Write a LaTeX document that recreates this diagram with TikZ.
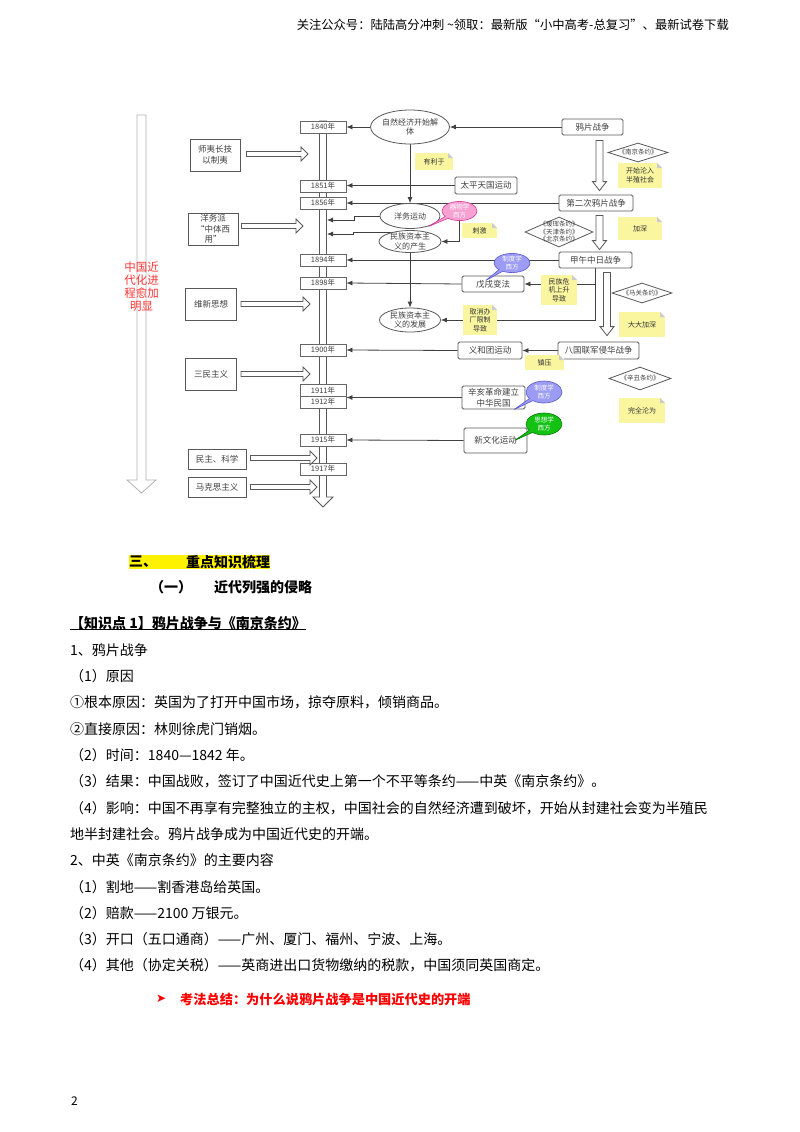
\documentclass[tikz,border=0pt]{standalone}
\usepackage{fontspec}
\setmainfont{Noto Sans CJK SC}
\newfontfamily\symfont{DejaVu Sans}
\usetikzlibrary{arrows.meta,shapes.geometric,shapes.callouts,calc,backgrounds}

\definecolor{notey}{HTML}{FAF6A0}
\definecolor{pinkf}{HTML}{F7A1D2}
\definecolor{pinkd}{HTML}{D63C9A}
\definecolor{purpf}{HTML}{9C9CF5}
\definecolor{purpd}{HTML}{5A5AD0}
\definecolor{grnf}{HTML}{14C214}
\definecolor{grnd}{HTML}{0A7A0A}

% hollow block arrows: start point, tip point
\newcommand{\blockright}[2]{%
  \draw[hollow] let \p1=#1, \p2=#2 in
    (\x1,\y2-2.5pt) -- (\x2-7pt,\y2-2.5pt) -- (\x2-7pt,\y2-7pt) -- (\x2,\y2)
    -- (\x2-7pt,\y2+7pt) -- (\x2-7pt,\y2+2.5pt) -- (\x1,\y2+2.5pt) -- cycle;}
\newcommand{\blockdown}[2]{%
  \draw[hollow] let \p1=#1, \p2=#2 in
    (\x1-3.5pt,\y1) -- (\x1-3.5pt,\y2+9pt) -- (\x1-7pt,\y2+9pt) -- (\x1,\y2)
    -- (\x1+7pt,\y2+9pt) -- (\x1+3.5pt,\y2+9pt) -- (\x1+3.5pt,\y1) -- cycle;}

\tikzset{
  hollow/.style={draw=black!65,fill=white,line width=0.8pt},
  link/.style={draw=black!75,line width=0.8pt,-{Latex[length=6pt,width=5pt]}},
  yearbox/.style={draw=black!60,line width=0.9pt,fill=white,minimum width=46pt,minimum height=12pt,
    inner sep=0pt,font=\fontsize{7.5}{8}\selectfont,text=black!75},
  idea/.style={draw=black!65,line width=0.8pt,fill=white,inner sep=1pt,align=center,
    font=\fontsize{8.5}{10.5}\selectfont,text=black!75},
  event/.style={draw=black!65,line width=0.8pt,fill=white,rounded corners=1.5pt,inner sep=1pt,
    align=center,font=\fontsize{8.5}{10.5}\selectfont,text=black!75},
  stage/.style={ellipse,draw=black!65,line width=0.8pt,fill=white,inner sep=0pt},
  stagetxt/.style={align=center,inner sep=0pt,font=\fontsize{8}{9.5}\selectfont,text=black!75},
  pact/.style={diamond,draw=black!65,line width=0.8pt,fill=white,inner sep=0pt},
  pacttxt/.style={align=center,inner sep=0pt,font=\fontsize{6.5}{7.5}\selectfont,text=black!75},
  memo/.style={fill=notey,inner sep=1pt,align=center,font=\fontsize{7}{8.5}\selectfont,text=black!80,
    path picture={
      \fill[white] ([xshift=-5pt]path picture bounding box.north east) -- (path picture bounding box.north east)
        -- ([yshift=-5pt]path picture bounding box.north east) -- cycle;
      \fill[black!20] ([xshift=-5pt]path picture bounding box.north east) -- ([xshift=-5pt,yshift=-5pt]path picture bounding box.north east)
        -- ([yshift=-5pt]path picture bounding box.north east) -- cycle;}},
  bubble/.style={ellipse callout,line width=0.6pt,inner sep=0pt,align=center,text=white,
    font=\fontsize{6.5}{7.5}\selectfont,minimum width=36pt,minimum height=20pt},
  txt/.style={anchor=west,inner sep=0pt,font=\fontsize{14}{16}\selectfont},
}

\begin{document}
\begin{tikzpicture}[x=1pt,y=-1pt]
  \useasboundingbox (0,0) rectangle (800,1132);

  % header
  \node[anchor=east,inner sep=0pt,font=\fontsize{12.3}{14}\selectfont] (hdr) at (729,25)
    {关注公众号：陆陆高分冲刺\ \textasciitilde 领取：最新版“小中高考-总复习”、最新试卷下载};

  % long trend arrow on the left
  \draw[hollow,draw=black!30] (137,115) -- (137,480) -- (127,480) -- (141.5,493) -- (156,480)
    -- (146,480) -- (146,115) -- cycle;
  \node[align=center,inner sep=0pt,text=red!80,font=\fontsize{11.5}{13}\selectfont] (trend) at (141.5,287)
    {中国近\\代化进\\程愈加\\明显};

  % timeline
  \coordinate (tltop) at (323,121);
  \coordinate (tlend) at (323,507);
  \begin{pgfonlayer}{background}
    \draw[hollow] let \p1=(tltop), \p2=(tlend) in
      (\x1-3.5pt,\y1) -- (\x1-3.5pt,\y2+10pt) -- (\x1-10pt,\y2+10pt) -- (\x1,\y2)
      -- (\x1+10pt,\y2+10pt) -- (\x1+3.5pt,\y2+10pt) -- (\x1+3.5pt,\y1) -- cycle;
  \end{pgfonlayer}

  \node[yearbox] (y1840) at (323,127) {1840年};
  \node[yearbox] (y1851) at (323,186) {1851年};
  \node[yearbox] (y1856) at (323,203) {1856年};
  \node[yearbox] (y1894) at (323,260) {1894年};
  \node[yearbox] (y1898) at (323,283) {1898年};
  \node[yearbox] (y1900) at (323,350) {1900年};
  \node[yearbox] (y1911) at (323,390.5) {1911年};
  \node[yearbox] (y1912) at (323,402) {1912年};
  \node[yearbox] (y1915) at (323,440) {1915年};
  \node[yearbox] (y1917) at (323,469) {1917年};

  % ideas on the left
  \node[idea,minimum width=50pt,minimum height=32pt] (shiyi) at (215,155) {师夷长技\\以制夷};
  \node[idea,minimum width=50pt,minimum height=32pt] (zhongti) at (213,229) {洋务派\\“中体西\\用”};
  \node[idea,minimum width=51pt,minimum height=32pt] (weixin) at (211,304) {维新思想};
  \node[idea,minimum width=51pt,minimum height=32pt] (sanmin) at (211,374) {三民主义};
  \node[idea,minimum width=58pt,minimum height=20pt] (minzhu) at (217,459) {民主、科学};
  \node[idea,minimum width=58pt,minimum height=20pt] (makesi) at (217,487) {马克思主义};

  \coordinate (tipA) at (308,154);
  \coordinate (tipB) at (303,226);
  \coordinate (tipC) at (310,304);
  \coordinate (tipD) at (310,374);
  \coordinate (tipE) at (317,458);
  \coordinate (tipF) at (317,487);
  \blockright{($(shiyi.east)+(6,0)$)}{(tipA)}
  \blockright{($(zhongti.east)+(3,0)$)}{(tipB)}
  \blockright{($(weixin.east)+(4,0)$)}{(tipC)}
  \blockright{($(sanmin.east)+(4,0)$)}{(tipD)}
  \blockright{($(minzhu.east)+(4,0)$)}{(tipE)}
  \blockright{($(makesi.east)+(4,0)$)}{(tipF)}

  % events
  \node[stage,minimum width=79pt,minimum height=34pt,label={[stagetxt]center:{自然经济开始解\\体}}] (ziran) at (410,127) {};
  \node[event,minimum width=61pt,minimum height=16pt] (yapian) at (592.5,127) {鸦片战争};
  \node[event,minimum width=62pt,minimum height=17pt] (taiping) at (486,185.5) {太平天国运动};
  \node[event,minimum width=74pt,minimum height=16pt] (dier) at (596,203) {第二次鸦片战争};
  \node[stage,minimum width=60pt,minimum height=25pt,label={[stagetxt]center:洋务运动}] (yangwu) at (410,216) {};
  \node[stage,minimum width=62pt,minimum height=22pt,label={[stagetxt]center:{民族资本主\\义的产生}}] (chansheng) at (410,241.5) {};
  \node[event,minimum width=73pt,minimum height=16pt] (jiawu) at (595.5,260) {甲午中日战争};
  \node[event,minimum width=62pt,minimum height=16pt] (wuxu) at (493,284) {戊戌变法};
  \node[stage,minimum width=61pt,minimum height=24pt,label={[stagetxt]center:{民族资本主\\义的发展}}] (fazhan) at (410,320) {};
  \node[event,minimum width=64pt,minimum height=17pt] (yihe) at (490,350.5) {义和团运动};
  \node[event,minimum width=81pt,minimum height=17pt] (baguo) at (598.5,350.5) {八国联军侵华战争};
  \node[event,minimum width=63pt,minimum height=23pt] (xinhai) at (493.5,397.5) {辛亥革命建立\\中华民国};
  \node[event,minimum width=63pt,minimum height=25pt] (xinwh) at (495.5,440.5) {新文化运动};

  % treaties
  \node[pact,minimum width=60pt,minimum height=19pt,label={[pacttxt]center:《南京条约》}] (nanjing) at (638,152.5) {};
  \node[pact,minimum width=68pt,minimum height=30pt,label={[pacttxt]center:{《瑷珲条约》\\《天津条约》\\《北京条约》}}] (tianjin) at (559,232) {};
  \node[pact,minimum width=60pt,minimum height=20pt,label={[pacttxt]center:《马关条约》}] (maguan) at (642,293) {};
  \node[pact,minimum width=62pt,minimum height=23pt,label={[pacttxt]center:《辛丑条约》}] (xinchou) at (640,378.5) {};

  % notes
  \node[memo,minimum width=38pt,minimum height=17pt] (youli) at (434,161.5) {有利于};
  \node[memo,minimum width=44pt,minimum height=25pt] (kaishi) at (640,175.5) {开始沦入\\半殖社会};
  \node[memo,minimum width=35pt,minimum height=15pt] (ciji) at (479.5,230.5) {刺激};
  \node[memo,minimum width=44pt,minimum height=23pt] (jiashen) at (640,228.5) {加深};
  \node[memo,minimum width=46pt,minimum height=25pt] (dada) at (642,324.5) {大大加深};
  \node[memo,minimum width=46pt,minimum height=25pt] (wanquan) at (642,410.5) {完全沦为};

  % ways of learning from the west
  \node[bubble,fill=pinkf,draw=pinkd,minimum width=35pt,minimum height=18pt,
    callout relative pointer={(-18pt,-9pt)}] (qiwu) at (459.5,211) {器物学\\西方};
  \node[bubble,fill=purpf,draw=purpd,minimum height=18pt,
    callout relative pointer={(-15pt,-10pt)}] (zhidu) at (512,263) {制度学\\西方};
  \node[bubble,fill=purpf,draw=purpd,minimum height=22pt,
    callout relative pointer={(-17pt,-10pt)}] (zhidub) at (544,392) {制度学\\西方};
  \node[bubble,fill=grnf,draw=grnd,minimum height=22pt,
    callout relative pointer={(-16pt,-9pt)}] (sixiang) at (544,424) {思想学\\西方};

  % connectors
  \coordinate (stepA) at (354,220);
  \coordinate (endA) at (327,220);
  \coordinate (stepB) at (353,234);
  \coordinate (endB) at (327,234);
  \begin{pgfonlayer}{background}
    \draw[link] (yapian.west) -- (ziran.east);
    \draw[link] (ziran.west) -- (y1840.east);
    \draw[link] (ziran.south) -- (yangwu.north);
    \draw[link] (taiping.west) -- (taiping.west -| y1851.east);
    \draw[link] (dier.west) -- (y1856.east);
    \draw[link] (yangwu.west) -| (stepA) -- (endA);
    \draw[link] (chansheng.155) -| (stepB) -- (endB);
    \draw[link] (qiwu.south) |- (chansheng.east);
    \draw[link] (chansheng.south) -- (fazhan.north);
    \draw[link] (jiawu.west) -- (y1894.east);
    \draw[link] (jiawu.south) |- (fazhan.east);
    \draw[link] (jiawu.south |- wuxu.east) -- (wuxu.east);
    \draw[link] (wuxu.west) -- (y1898.east);
    \draw[link] (baguo.west) -- (yihe.east);
    \draw[link] (yihe.west) -- (y1900.east);
    \draw[link] (xinhai.west) -- (xinhai.west -| y1911.east);
    \draw[link] (xinwh.west) -- (y1915.east);
  \end{pgfonlayer}
  \node[memo,minimum width=36pt,minimum height=30pt] (weiji) at (559,290) {民族危\\机上升\\导致};
  \node[memo,minimum width=34pt,minimum height=30pt] (quxiao) at (480,320) {取消办\\厂限制\\导致};
  \node[memo,minimum width=39pt,minimum height=15pt] (zhenya) at (544.5,362.5) {镇压};

  \blockdown{($(yapian.south)+(7,5)$)}{($(dier.north)+(3.5,-4)$)}
  \blockdown{($(dier.south)+(3.5,4)$)}{($(jiawu.north)+(4,-2)$)}
  \blockdown{($(jiawu.south)+(11.5,4)$)}{($(baguo.north)+(8.5,-6)$)}

  % text part
  \fill[yellow] (129,555) rectangle (270,569);
  \node[txt,font=\fontsize{14}{16}\selectfont\bfseries] (sec3) at (129,562) {三、};
  \node[txt,font=\fontsize{14}{16}\selectfont\bfseries] (sec3t) at (186,562) {重点知识梳理};
  \node[txt,font=\fontsize{14}{16}\selectfont\bfseries] (sub1) at (150,587) {（一）};
  \node[txt,font=\fontsize{14}{16}\selectfont\bfseries] (sub1t) at (214,587) {近代列强的侵略};
  \node[txt,font=\fontsize{14}{16}\selectfont\bfseries] (kp1) at (70,623) {【知识点 1】鸦片战争与《南京条约》};
  \draw[line width=0.8pt] (kp1.south west) ++(0,-1) -- ($(kp1.south east)+(0,-1)$);

  \node[txt] (l1) at (70,650) {1、鸦片战争};
  \node[txt] (l2) at (70,676) {（1）原因};
  \node[txt] (l3) at (70,702) {①根本原因：英国为了打开中国市场，掠夺原料，倾销商品。};
  \node[txt] (l4) at (70,729) {②直接原因：林则徐虎门销烟。};
  \node[txt] (l5) at (70,755) {（2）时间：1840—1842 年。};
  \node[txt] (l6) at (70,781) {（3）结果：中国战败，签订了中国近代史上第一个不平等条约——中英《南京条约》。};
  \node[txt] (l7) at (70,808) {（4）影响：中国不再享有完整独立的主权，中国社会的自然经济遭到破坏，开始从封建社会变为半殖民};
  \node[txt] (l8) at (70,834) {地半封建社会。鸦片战争成为中国近代史的开端。};
  \node[txt] (l9) at (70,860) {2、中英《南京条约》的主要内容};
  \node[txt] (l10) at (70,887) {（1）割地——割香港岛给英国。};
  \node[txt] (l11) at (70,913) {（2）赔款——2100 万银元。};
  \node[txt] (l12) at (70,939) {（3）开口（五口通商）——广州、厦门、福州、宁波、上海。};
  \node[txt] (l13) at (70,965) {（4）其他（协定关税）——英商进出口货物缴纳的税款，中国须同英国商定。};

  \node[txt,text=red,font=\fontsize{12}{14}\symfont] (mark) at (156,999) {➤};
  \node[txt,text=red,font=\fontsize{13.2}{15}\selectfont\bfseries] (sum) at (180,999) {考法总结：为什么说鸦片战争是中国近代史的开端};

  \node[txt,font=\fontsize{12}{14}\selectfont] (pg) at (71,1101) {2};
\end{tikzpicture}
\end{document}
